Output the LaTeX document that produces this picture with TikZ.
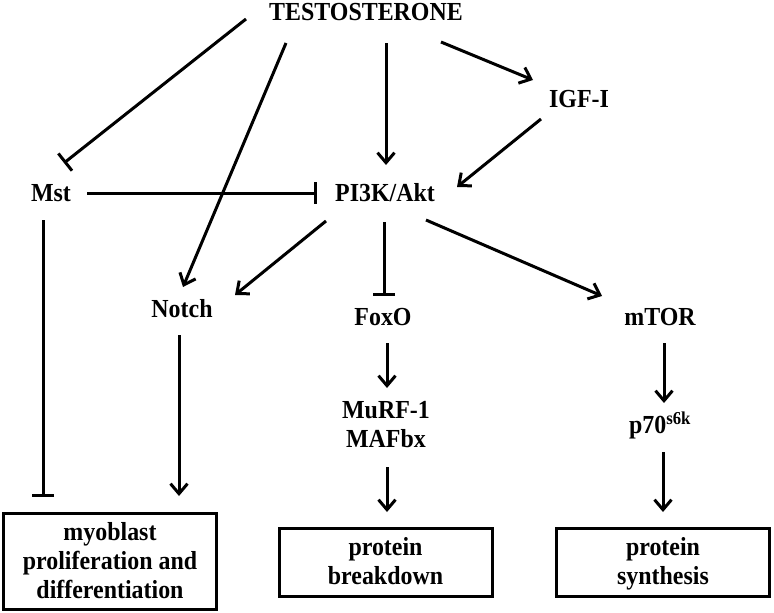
\documentclass[tikz,border=0pt]{standalone}
\usepackage{fontspec}
\setmainfont{Liberation Serif}[FakeStretch=0.92]
\usetikzlibrary{arrows.meta,positioning,calc}

\begin{document}
\begin{tikzpicture}[x=1pt,y=-1pt,
  lbl/.style={font=\fontsize{26}{29}\selectfont\bfseries,inner sep=0pt,
              text height=17pt,text depth=0pt},
  mlbl/.style={font=\fontsize{26}{29}\selectfont\bfseries,inner sep=0pt,align=center},
  box/.style={mlbl,draw,line width=3pt,minimum width=213pt,text depth=3pt},
  arrow/.style={-{Straight Barb[length=10pt,width=17pt]},line width=3pt},
  inhibit/.style={-{Bar[width=22pt]},line width=3pt}]
\useasboundingbox (0,0) rectangle (774,613);
% labels
\node[lbl] (testo) at (366,12) {TESTOSTERONE};
\node[lbl] (igf) at (579,99) {IGF-I};
\node[lbl] (mst) at (51,193) {Mst};
\node[lbl] (pik) at (385,193) {PI3K/Akt};
\node[lbl] (notch) at (182,309) {Notch};
\node[lbl] (foxo) at (383,317) {FoxO};
\node[lbl] (mtor) at (660,317) {mTOR};
\node[mlbl] (murf) at (386,425) {MuRF-1\\MAFbx};
\node[lbl] (p70) at (660,425) {p70\textsuperscript{s6k}};
% outcome boxes
\node[box,minimum height=96pt] (prolif) at (110,561.5) {myoblast\\proliferation and\\differentiation};
\node[box,minimum height=68pt] (breakdown) at (385.5,562.5) {protein\\breakdown};
\node[box,minimum height=68pt] (synthesis) at (663,562.5) {protein\\synthesis};
% connectors
\draw[inhibit] ([shift={(-120,7)}]testo.center) -- ([shift={(13,-30)}]mst.center);
\draw[arrow] ([shift={(-80,31)}]testo.center) -- ([shift={(1,-22)}]notch.center);
\draw[arrow] ([shift={(20,31)}]testo.center) -- ([shift={(1,-28)}]pik.center);
\draw[arrow] ([shift={(75,30)}]testo.center) -- ([shift={(-46,-19)}]igf.center);
\draw[arrow] ([shift={(-38,20)}]igf.center) -- ([shift={(72,-6)}]pik.center);
\draw[inhibit] ([shift={(36,0)}]mst.center) -- ([shift={(-68,0)}]pik.center);
\draw[arrow] ([shift={(-59,28)}]pik.center) -- ([shift={(53,-14)}]notch.center);
\draw[inhibit] ([shift={(-1,29)}]pik.center) -- ([shift={(1,-21)}]foxo.center);
\draw[arrow] ([shift={(41,27)}]pik.center) -- ([shift={(-58,-21)}]mtor.center);
\draw[inhibit] ([shift={(-8,27)}]mst.center) -- ([shift={(-67,-15)}]prolif.north);
\draw[arrow] ([shift={(-3,26)}]notch.center) -- ([shift={(69,-16)}]prolif.north);
\draw[arrow] ([shift={(4,26)}]foxo.center) -- ([shift={(1,-37)}]murf.center);
\draw[arrow] ([shift={(1,42)}]murf.center) -- ([shift={(1.5,-15)}]breakdown.north);
\draw[arrow] ([shift={(4,26)}]mtor.center) -- ([shift={(4,-22)}]p70.center);
\draw[arrow] ([shift={(3,27)}]p70.center) -- ([shift={(0,-15)}]synthesis.north);
\end{tikzpicture}
\end{document}
